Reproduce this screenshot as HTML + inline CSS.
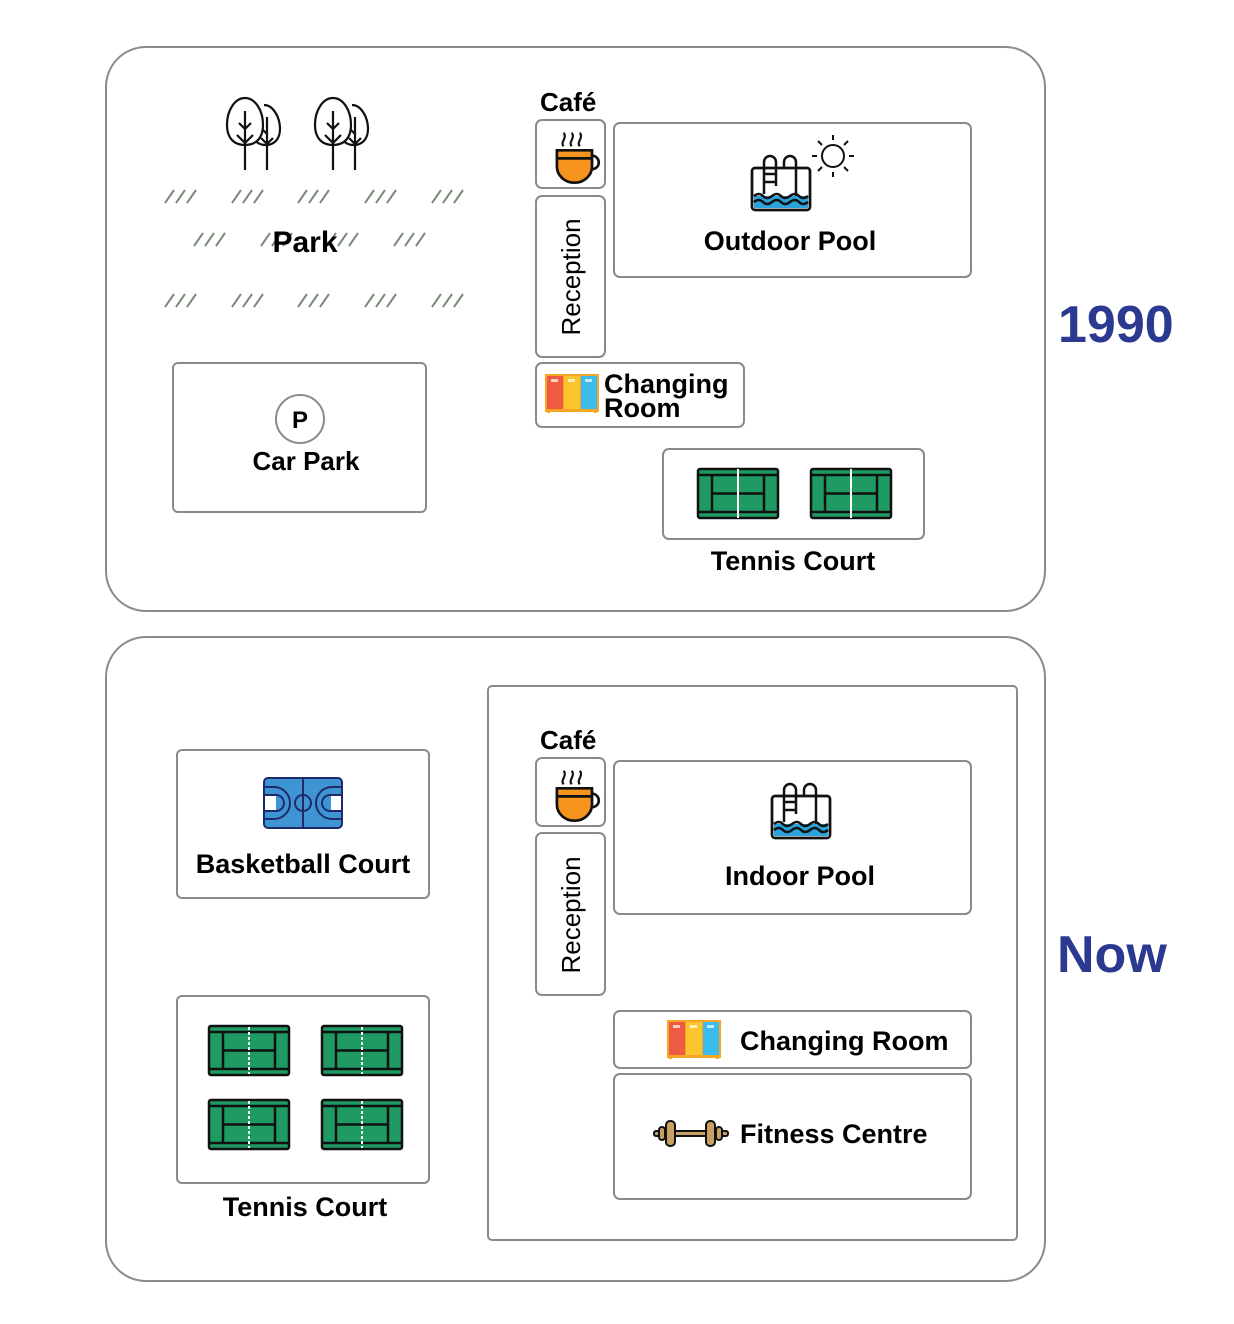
<!DOCTYPE html>
<html><head><meta charset="utf-8"><style>
html,body{margin:0;padding:0;background:#fff}
svg{display:block}
text{font-family:"Liberation Sans",sans-serif;font-weight:bold;fill:#000}
</style></head><body>
<svg width="1234" height="1324" viewBox="0 0 1234 1324" xmlns="http://www.w3.org/2000/svg">
<defs>
<g id="court">
<rect x="1" y="1" width="80" height="49" rx="2" fill="#1e9a62" stroke="#111" stroke-width="2.5"/>
<line x1="1" y1="7" x2="81" y2="7" stroke="#111" stroke-width="2.5"/>
<line x1="1" y1="44" x2="81" y2="44" stroke="#111" stroke-width="2.5"/>
<line x1="15" y1="7" x2="15" y2="44" stroke="#111" stroke-width="2.5"/>
<line x1="67" y1="7" x2="67" y2="44" stroke="#111" stroke-width="2.5"/>
<line x1="15" y1="25.5" x2="67" y2="25.5" stroke="#111" stroke-width="2.5"/>
</g>
<g id="lock">
<rect x="0" y="1" width="54" height="38" fill="#f6a623"/>
<rect x="2" y="3" width="16" height="33" fill="#ef5a42"/>
<rect x="19" y="3" width="16" height="33" fill="#fbc52d"/>
<rect x="36" y="3" width="16" height="33" fill="#3bbcea"/>
<rect x="6" y="6" width="7" height="3" fill="#fff" opacity=".7"/>
<rect x="23" y="6" width="7" height="3" fill="#fff" opacity=".7"/>
<rect x="40" y="6" width="7" height="3" fill="#fff" opacity=".7"/>
<rect x="2" y="37" width="3" height="3" fill="#f6a623"/><rect x="49" y="37" width="3" height="3" fill="#f6a623"/>
</g>
<g id="pool" fill="none" stroke="#111" stroke-width="2.5">
<rect x="1" y="12" width="58" height="42" rx="3" fill="#fff"/>
<path d="M3 40 H57 V52 H3Z" fill="#2aa3dc" stroke="none"/>
<path d="M13 38 V6 a6 6 0 0 1 12 0 V12 M25 12 V30 M13 18 H25 M13 26 H25 M33 12 V6 a6 6 0 0 1 12 0 V40"/>
<path d="M3 40 q5 -4 9 0 t9 0 t9 0 t9 0 t9 0 t9 0 M3 46 q5 -4 9 0 t9 0 t9 0 t9 0 t9 0 t9 0"/>
<rect x="1" y="12" width="58" height="42" rx="3"/>
</g>
<g id="cup">
<path d="M-1 -5 c-3 -3 3 -6 0 -10 M5 -5 c-3 -3 3 -6 0 -10 M11 -5 c-3 -3 3 -6 0 -10" fill="none" stroke="#111" stroke-width="1.6"/>
<path d="M-6 -2 H20 V10 a13 12 0 0 1 -26 0 Z" fill="#f7941d" stroke="#111" stroke-width="2"/>
<line x1="-6" y1="4" x2="20" y2="4" stroke="#111" stroke-width="2"/>
<path d="M20 2 a5 5 0 0 1 0 10" fill="none" stroke="#111" stroke-width="2"/>
</g>
<g id="hatch" stroke="#7b8b7b" stroke-width="2">
<line x1="0" y1="13" x2="9" y2="0"/><line x1="11" y1="13" x2="20" y2="0"/><line x1="22" y1="13" x2="31" y2="0"/>
</g>
<g id="tree" fill="none" stroke="#111" stroke-width="2.2">
<path d="M38 8 C 47 8 54 20 54 32 C 54 42 48 48 40 48 C 35 48 31 46 29 43" fill="#fff"/>
<path d="M19 48 C 7 48 1 40 1 28 C 1 13 9 1 19 1 C 29 1 37 13 37 28 C 37 40 31 48 19 48Z" fill="#fff"/>
<path d="M19 14 V73 M13 26 L19 32 L25 26 M11 38 L19 46 L27 38 M41 20 V73 M36 32 L41 37 M35 41 L41 47 L47 41"/>
</g>
</defs>

<!-- 1990 -->
<rect x="106" y="47" width="939" height="564" rx="40" fill="none" stroke="#8a8a8a" stroke-width="2"/>
<text x="1058" y="342" font-size="52" style="fill:#2b3990">1990</text>

<use href="#tree" x="226" y="97"/>
<use href="#tree" x="314" y="97"/>
<g>
<use href="#hatch" x="165" y="190"/><use href="#hatch" x="232" y="190"/><use href="#hatch" x="298" y="190"/><use href="#hatch" x="365" y="190"/><use href="#hatch" x="432" y="190"/>
<use href="#hatch" x="194" y="233"/><use href="#hatch" x="261" y="233"/><use href="#hatch" x="327" y="233"/><use href="#hatch" x="394" y="233"/>
<use href="#hatch" x="165" y="294"/><use href="#hatch" x="232" y="294"/><use href="#hatch" x="298" y="294"/><use href="#hatch" x="365" y="294"/><use href="#hatch" x="432" y="294"/>
</g>
<text x="305" y="252" font-size="30" text-anchor="middle">Park</text>

<rect x="173" y="363" width="253" height="149" rx="5" fill="#fff" stroke="#8a8a8a" stroke-width="2"/>
<circle cx="300" cy="419" r="24" fill="#fff" stroke="#8a8a8a" stroke-width="2"/>
<text x="300" y="428" font-size="24" text-anchor="middle">P</text>
<text x="306" y="470" font-size="26" text-anchor="middle">Car Park</text>

<text x="540" y="111" font-size="26">Café</text>
<rect x="536" y="120" width="69" height="68" rx="6" fill="#fff" stroke="#8a8a8a" stroke-width="2"/>
<use href="#cup" transform="translate(565,153) scale(1.35)"/>
<rect x="536" y="196" width="69" height="161" rx="6" fill="#fff" stroke="#8a8a8a" stroke-width="2"/>
<text transform="translate(580,277) rotate(-90)" font-size="26" text-anchor="middle" style="font-weight:normal">Reception</text>
<rect x="614" y="123" width="357" height="154" rx="6" fill="#fff" stroke="#8a8a8a" stroke-width="2"/>
<use href="#pool" x="751" y="156"/>
<g stroke="#111" stroke-width="2" fill="none">
<circle cx="833" cy="156" r="11"/>
<path d="M833 135 v5 M833 172 v5 M812 156 h5 M849 156 h5 M818 141 l4 4 M848 141 l-4 4 M818 171 l4 -4 M848 171 l-4 -4"/>
</g>
<text x="790" y="250" font-size="27" text-anchor="middle">Outdoor Pool</text>
<rect x="536" y="363" width="208" height="64" rx="6" fill="#fff" stroke="#8a8a8a" stroke-width="2"/>
<use href="#lock" x="545" y="373"/>
<text x="604" y="393" font-size="27">Changing</text>
<text x="604" y="417" font-size="27">Room</text>
<rect x="663" y="449" width="261" height="90" rx="6" fill="#fff" stroke="#8a8a8a" stroke-width="2"/>
<use href="#court" x="697" y="468"/>
<line x1="738" y1="469" x2="738" y2="518" stroke="#fff" stroke-width="2"/>
<use href="#court" x="810" y="468"/>
<line x1="851" y1="469" x2="851" y2="518" stroke="#fff" stroke-width="2"/>
<text x="793" y="570" font-size="27" text-anchor="middle">Tennis Court</text>

<!-- Now -->
<rect x="106" y="637" width="939" height="644" rx="40" fill="none" stroke="#8a8a8a" stroke-width="2"/>
<text x="1057" y="972" font-size="52" style="fill:#2b3990">Now</text>

<rect x="177" y="750" width="252" height="148" rx="5" fill="#fff" stroke="#8a8a8a" stroke-width="2"/>
<g stroke="#1f2a6a" stroke-width="2" fill="none">
<rect x="264" y="778" width="78" height="50" rx="4" fill="#3f95d3"/>
<line x1="303" y1="778" x2="303" y2="828"/>
<circle cx="303" cy="803" r="8"/>
<path d="M264 787 h10 a16 16 0 0 1 0 32 h-10 M264 795 h12 a8 8 0 0 1 0 16 h-12" />
<path d="M342 787 h-10 a16 16 0 0 0 0 32 h10 M342 795 h-12 a8 8 0 0 0 0 16 h12"/>
</g>
<rect x="265" y="796" width="11" height="14" fill="#fff"/>
<rect x="331" y="796" width="10" height="14" fill="#fff"/>
<text x="303" y="873" font-size="27" text-anchor="middle">Basketball Court</text>

<rect x="177" y="996" width="252" height="187" rx="5" fill="#fff" stroke="#8a8a8a" stroke-width="2"/>
<use href="#court" x="208" y="1025"/>
<use href="#court" x="321" y="1025"/>
<use href="#court" x="208" y="1099"/>
<use href="#court" x="321" y="1099"/>
<g stroke="#fff" stroke-width="2" stroke-dasharray="3 2">
<line x1="249" y1="1027" x2="249" y2="1074"/>
<line x1="362" y1="1027" x2="362" y2="1074"/>
<line x1="249" y1="1101" x2="249" y2="1148"/>
<line x1="362" y1="1101" x2="362" y2="1148"/>
</g>
<text x="305" y="1216" font-size="27" text-anchor="middle">Tennis Court</text>

<rect x="488" y="686" width="529" height="554" rx="4" fill="#fff" stroke="#8a8a8a" stroke-width="2"/>
<text x="540" y="749" font-size="26">Café</text>
<rect x="536" y="758" width="69" height="68" rx="6" fill="#fff" stroke="#8a8a8a" stroke-width="2"/>
<use href="#cup" transform="translate(565,791) scale(1.35)"/>
<rect x="536" y="833" width="69" height="162" rx="6" fill="#fff" stroke="#8a8a8a" stroke-width="2"/>
<text transform="translate(580,915) rotate(-90)" font-size="26" text-anchor="middle" style="font-weight:normal">Reception</text>
<rect x="614" y="761" width="357" height="153" rx="6" fill="#fff" stroke="#8a8a8a" stroke-width="2"/>
<use href="#pool" x="771" y="784"/>
<text x="800" y="885" font-size="27" text-anchor="middle">Indoor Pool</text>
<rect x="614" y="1011" width="357" height="57" rx="6" fill="#fff" stroke="#8a8a8a" stroke-width="2"/>
<use href="#lock" x="667" y="1019"/>
<text x="740" y="1050" font-size="27">Changing Room</text>
<rect x="614" y="1074" width="357" height="125" rx="6" fill="#fff" stroke="#8a8a8a" stroke-width="2"/>
<g stroke="#111" stroke-width="2" fill="#c9a063">
<rect x="654" y="1131" width="74" height="5" rx="2"/>
<rect x="659" y="1127" width="6" height="13" rx="3"/>
<rect x="666" y="1121" width="9" height="25" rx="4"/>
<rect x="706" y="1121" width="9" height="25" rx="4"/>
<rect x="716" y="1127" width="6" height="13" rx="3"/>
</g>
<text x="740" y="1143" font-size="27">Fitness Centre</text>
</svg>
</body></html>
